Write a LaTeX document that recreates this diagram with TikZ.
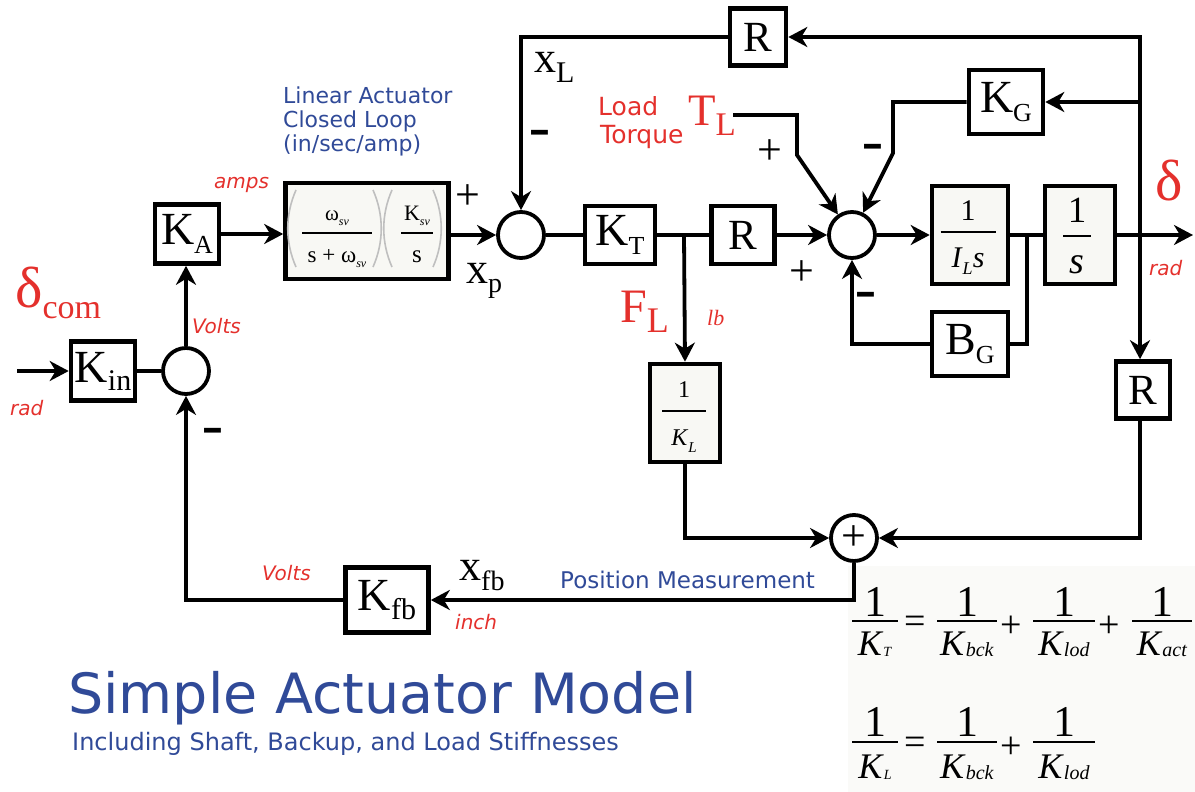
\documentclass[tikz,border=0pt]{standalone}
\usepackage{fontspec}
\usepackage{graphicx}
\setmainfont{Liberation Serif}
\newfontfamily\dv{DejaVu Sans}
\newfontfamily\lsans{Liberation Sans}
\usetikzlibrary{arrows.meta}
\definecolor{myred}{RGB}{228,48,44}
\definecolor{myblue}{RGB}{48,74,152}
\definecolor{boxfill}{RGB}{248,248,244}
\definecolor{eqbg}{RGB}{250,250,248}
\newcommand\fs[1]{\fontsize{#1}{#1}\selectfont}
\newcommand\sbx[3]{\raisebox{#2}{\fs{#1}#3}}
\newcommand\mn{{\lsans\bfseries\fs{34}\scalebox{1}[1.4]{–}}}
% fraction: name, x, bar y, half width, num, den, num base offset, den base offset
\newcommand\FR[8]{%
 \node[frt] (#1n) at (#2,#3-#7) {#5};
 \draw[frbar] (#2-#4,#3) -- (#2+#4,#3);
 \node[frt] (#1d) at (#2,#3+#8) {#6};}
\begin{document}
\begin{tikzpicture}[x=1pt,y=-1pt,
 wire/.style={line width=3.8pt},
 tip/.tip={Stealth[length=19pt,width=20pt,inset=6pt]},
 arr/.style={wire,-tip},
 blk/.style={draw,line width=4.6pt,inner sep=0pt,fill=white,font=\fs{46}},
 fblk/.style={blk,fill=boxfill},
 sumc/.style={draw,circle,line width=3.8pt,minimum size=46pt,inner sep=0pt,fill=white},
 lbl/.style={inner sep=0pt,anchor=base west},
 frt/.style={inner sep=0pt,anchor=base},
 frbar/.style={line width=1.5pt},
 sgn/.style={inner sep=0pt,anchor=center,font=\fs{44}},
 rlab/.style={lbl,text=myred,font=\dv\itshape\fs{20}},
 paren/.style={gray!50,line width=1.6pt}
]
\useasboundingbox (0,0) rectangle (1195,792);
\fill[eqbg] (848,566) rectangle (1195,792);

% ---- blocks
\node[blk,minimum width=64pt,minimum height=59pt] (Kin) at (103,371) {K\sbx{30}{-8pt}{in}};
\node[sumc] (S1) at (186,371) {};
\node[blk,minimum width=64pt,minimum height=59pt] (KA) at (187,234) {K\sbx{26}{-9pt}{A}};
\node[fblk,minimum width=163pt,minimum height=96pt] (ACT) at (367,231) {};
\node[sumc] (S2) at (521,235) {};
\node[blk,minimum width=70pt,minimum height=58pt] (KT) at (620,235) {K\sbx{26}{-9pt}{T}};
\node[blk,minimum width=63pt,minimum height=58pt,font=\fs{43}] (Rm) at (743,235) {R};
\node[sumc] (S3) at (852,235) {};
\node[fblk,minimum width=76pt,minimum height=98pt] (IL) at (970,235) {};
\node[fblk,minimum width=70pt,minimum height=98pt] (INT) at (1080,235) {};
\node[blk,minimum width=76pt,minimum height=64pt] (BG) at (970,344) {B\sbx{26}{-9pt}{G}};
\node[blk,minimum width=74pt,minimum height=64pt] (KG) at (1006,102) {K\sbx{26}{-9pt}{G}};
\node[blk,minimum width=56pt,minimum height=57pt,font=\fs{43}] (Rt) at (758,37) {R};
\node[blk,minimum width=54pt,minimum height=57pt,font=\fs{43}] (Rr) at (1143,390) {R};
\node[fblk,minimum width=70pt,minimum height=98pt] (KL) at (685,413) {};
\node[sumc,font=\fs{44}] (S4) at (854,538) {+};
\node[blk,minimum width=83pt,minimum height=65pt] (Kfb) at (387,600) {K\sbx{30}{-9pt}{fb}};

% ---- fractions inside blocks
\FR{fil}{968}{232}{27.5}{{\fs{30}1}}{{\fs{30}\textit{I}\sbx{18}{-7pt}{\textit{L}}\textit{s}}}{12}{35}
\FR{fint}{1077}{236}{14}{{\fs{37}1}}{{\fs{38}\textit{s}}}{14}{37}
\FR{fkl}{684}{411}{22}{{\fs{24}1}}{{\fs{24}\textit{K}\sbx{15}{-7pt}{\textit{L}}}}{14}{34}
% actuator transfer function
\FR{fa1}{337}{233}{35}{{\fs{21}ω\sbx{12}{-5pt}{\textit{sv}}}}{{\fs{23}s + ω\sbx{12}{-5pt}{\textit{sv}}}}{13}{29}
\FR{fa2}{417}{233}{16}{{\fs{22}K\sbx{12}{-5pt}{\textit{sv}}}}{{\fs{25}s}}{13}{29}
\draw[paren] (296,190) .. controls (285,215) and (285,242) .. (296,267);
\draw[paren] (373,190) .. controls (384,215) and (384,242) .. (373,267);
\draw[paren] (392,190) .. controls (381,215) and (381,242) .. (392,267);
\draw[paren] (433,190) .. controls (444,215) and (444,242) .. (433,267);

% ---- connectors
\coordinate (in0) at (17,371);
\draw[arr] (in0) -- (Kin.west);
\draw[wire] (Kin.east) -- (S1.west);
\draw[arr] (S1.north) -- (S1.north |- KA.south);
\draw[arr] (KA.east) -- (KA.east -| ACT.west);
\draw[arr] (ACT.east |- S2) -- (S2.west);
\coordinate (ctop) at (1140,37);
\draw[wire,tip-tip] (Rt.east) -- (ctop) -- (ctop |- Rr.north);
\draw[arr] (Rt.west) -| (S2.north);
\draw[arr] (ctop |- KG) -- (KG.east);
\draw[arr] (KG.west) -- (893,102) -- (893,153) -- (S3);
\coordinate (tlc) at (733,115);
\draw[arr] (tlc) -- (797,115) -- (797,155) -- (S3);
\draw[wire] (S2.east) -- (KT.west);
\draw[wire] (KT.east) -- (Rm.west);
\coordinate (br1) at (684,235);
\draw[arr] (br1) -- (KL.north);
\draw[arr] (Rm.east) -- (S3.west);
\draw[arr] (S3.east) -- (IL.west);
\draw[wire] (IL.east) -- (INT.west);
\coordinate (br2) at (1027,235);
\draw[wire] (br2) |- (BG.east);
\draw[arr] (BG.west) -| (S3.south);
\coordinate (outp) at (1193,235);
\draw[arr] (INT.east) -- (outp);
\draw[arr] (Rr.south -| ctop) |- (S4.east);
\draw[arr] (KL.south) |- (S4.west);
\draw[arr] (S4.south) |- (Kfb.east);
\draw[arr] (Kfb.west) -| (S1.south);

% ---- labels
\node[lbl,text=myred] (dcom) at (15,307) {\fs{58}δ\sbx{34}{-11pt}{com}};
\node[rlab] (radin) at (10,415) {rad};
\node[rlab] (volts1) at (192,333) {Volts};
\node[rlab] (amps) at (214,188) {amps};
\node[lbl,text=myblue,font=\dv\fs{22},align=left] (lin1) at (283,103) {Linear Actuator};
\node[lbl,text=myblue,font=\dv\fs{22}] (lin2) at (283,128) {Closed Loop};
\node[lbl,text=myblue,font=\dv\fs{22}] (lin3) at (283,151) {(in/sec/amp)};
\node[sgn] (pact) at (468,197) {+};
\node[lbl] (xp) at (466,283) {\fs{44}x\sbx{28}{-9pt}{p}};
\node[lbl] (xl) at (534,73) {\fs{44}x\sbx{30}{-10pt}{L}};
\node[inner sep=0pt] (m1) at (540,138) {\mn};
\node[lbl,text=myred,font=\dv\fs{25}] (load) at (598,115) {Load};
\node[lbl,text=myred,font=\dv\fs{25}] (torq) at (600,143) {Torque};
\node[lbl,text=myred] (tl) at (688,125) {\fs{45}T\sbx{33}{-10pt}{L}};
\node[sgn] (ptl) at (770,152) {+};
\node[inner sep=0pt] (m2) at (873,152) {\mn};
\node[sgn] (prm) at (802,273) {+};
\node[inner sep=0pt] (m3) at (866,300) {\mn};
\node[lbl,text=myred] (delta) at (1155,200) {\fs{58}δ};
\node[rlab] (radout) at (1149,275) {rad};
\node[lbl,text=myred] (fl) at (620,322) {\fs{48}F\sbx{36}{-10pt}{L}};
\node[lbl,text=myred,font=\itshape\fs{22}] (lb) at (707,325) {lb};
\node[inner sep=0pt] (m4) at (213,436) {\mn};
\node[rlab] (volts2) at (262,580) {Volts};
\node[lbl] (xfb) at (459,580) {\fs{44}x\sbx{28}{-10pt}{fb}};
\node[rlab] (inch) at (455,629) {inch};
\node[lbl,text=myblue,font=\dv\fs{23}] (posm) at (560,588) {Position Measurement};
\node[lbl,text=myblue,font=\dv\fs{55.5}] (title) at (68,713) {Simple Actuator Model};
\node[lbl,text=myblue,font=\dv\fs{24}] (subt) at (72,750) {Including Shaft, Backup, and Load Stiffnesses};

% ---- equations
\FR{e1}{875}{621}{23}{{\fs{44}1}}{{\fs{36}\textit{K}\sbx{14}{-1pt}{\textit{T}}}}{5}{34}
\node[sgn,font=\fs{38}] (eq1) at (915,625) {=};
\FR{e2}{967}{621}{30}{{\fs{44}1}}{{\fs{36}\textit{K}\sbx{20}{-1pt}{\textit{bck}}}}{5}{34}
\node[sgn,font=\fs{38}] (pl1) at (1011,627) {+};
\FR{e3}{1064}{621}{31}{{\fs{44}1}}{{\fs{36}\textit{K}\sbx{20}{-1pt}{\textit{lod}}}}{5}{34}
\node[sgn,font=\fs{38}] (pl2) at (1109,627) {+};
\FR{e4}{1162}{621}{30}{{\fs{44}1}}{{\fs{36}\textit{K}\sbx{20}{-1pt}{\textit{act}}}}{5}{34}
\FR{e5}{875}{742}{23}{{\fs{44}1}}{{\fs{36}\textit{K}\sbx{14}{-1pt}{\textit{L}}}}{6}{36}
\node[sgn,font=\fs{38}] (eq2) at (915,746) {=};
\FR{e6}{967}{742}{30}{{\fs{44}1}}{{\fs{36}\textit{K}\sbx{20}{-1pt}{\textit{bck}}}}{6}{36}
\node[sgn,font=\fs{38}] (pl3) at (1011,748) {+};
\FR{e7}{1064}{742}{31}{{\fs{44}1}}{{\fs{36}\textit{K}\sbx{20}{-1pt}{\textit{lod}}}}{6}{36}
\end{tikzpicture}
\end{document}
